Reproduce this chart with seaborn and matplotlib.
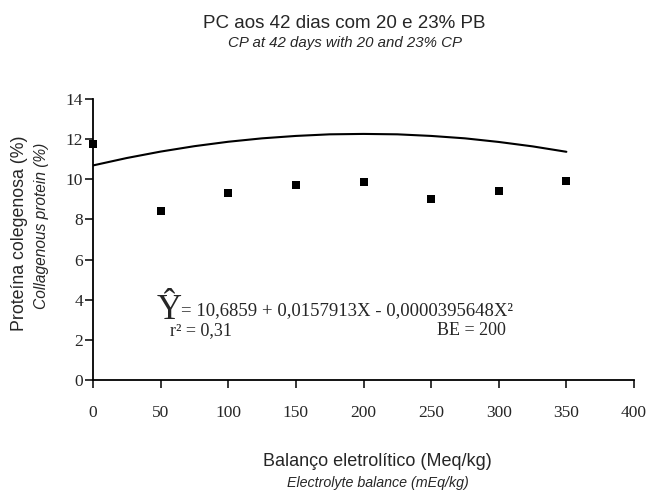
import numpy as np
import pandas as pd
import seaborn as sns
import matplotlib
matplotlib.use("Agg")
import matplotlib.pyplot as plt

# observed means
balance = [0, 50, 100, 150, 200, 250, 300, 350]
protein = [11.75, 8.4, 9.3, 9.7, 9.85, 9.0, 9.4, 9.9]

# fitted curve
curve_x = [0, 25, 50, 75, 100, 125, 150, 175, 200, 225, 250, 275, 300, 325, 350]
curve_y = [10.69, 11.06, 11.38, 11.65, 11.87, 12.04, 12.16, 12.24, 12.26,
           12.24, 12.16, 12.04, 11.86, 11.64, 11.37]

x_ticks = [0, 50, 100, 150, 200, 250, 300, 350, 400]
y_ticks = [0, 2, 4, 6, 8, 10, 12, 14]

sns.set_style("ticks")
W, H = 649, 492
fig = plt.figure(figsize=(W / 100, H / 100), dpi=100)


def fx(px):
    return px / W


def fy(py):
    return 1 - py / H


ax = fig.add_axes([fx(93), fy(380), fx(634) - fx(93), fy(99) - fy(380)])

pts = pd.DataFrame({"x": balance, "y": protein})
fit = pd.DataFrame({"x": curve_x, "y": curve_y})
sns.lineplot(data=fit, x="x", y="y", ax=ax, color="black", linewidth=1.5)
sns.scatterplot(data=pts, x="x", y="y", ax=ax, color="black", marker="s",
                s=26, edgecolor="black", linewidth=0, zorder=3)

ax.set_xlim(0, 400)
ax.set_ylim(0, 14)
ax.set_xticks(x_ticks)
ax.set_yticks(y_ticks)
ax.set_xlabel("")
ax.set_ylabel("")
for s in ["top", "right"]:
    ax.spines[s].set_visible(False)
for s in ["left", "bottom"]:
    ax.spines[s].set_linewidth(1.3)
    ax.spines[s].set_color("black")
ax.tick_params(axis="x", length=6, width=1.3, pad=12, labelsize=12.5)
ax.tick_params(axis="y", length=6, width=1.3, pad=1, labelsize=12.5)
for lab in ax.get_xticklabels() + ax.get_yticklabels():
    lab.set_family("Liberation Serif")
for c in ax.collections:
    c.set_clip_on(False)

sans = "Liberation Sans"
serif = "Liberation Serif"
fig.text(fx(344), fy(23), "PC aos 42 dias com 20 e 23% PB", ha="center",
         va="center", fontsize=13.5, family=sans)
fig.text(fx(345), fy(43), "CP at 42 days with 20 and 23% CP", ha="center",
         va="center", fontsize=10.8, family=sans, style="italic")
fig.text(fx(377), fy(462), "Balanço eletrolítico (Meq/kg)", ha="center",
         va="center", fontsize=13, family=sans)
fig.text(fx(378), fy(483), "Electrolyte balance (mEq/kg)", ha="center",
         va="center", fontsize=10.3, family=sans, style="italic")
fig.text(fx(20), fy(233), "Proteína colegenosa (%)", ha="center",
         va="center", rotation=90, fontsize=12.8, family=sans)
fig.text(fx(42), fy(226), "Collagenous protein (%)", ha="center",
         va="center", rotation=90, fontsize=11.2, family=sans, style="italic")

fig.text(fx(157), fy(319), "Ŷ", ha="left", va="baseline", fontsize=25,
         family=serif)
fig.text(fx(181), fy(315), "= 10,6859 + 0,0157913X - 0,0000395648X²",
         ha="left", va="baseline", fontsize=13.5, family=serif)
fig.text(fx(170), fy(335), "r² = 0,31", ha="left", va="baseline",
         fontsize=13, family=serif)
fig.text(fx(437), fy(335), "BE = 200", ha="left", va="baseline",
         fontsize=13, family=serif)

fig.savefig("out.png", dpi=100)
